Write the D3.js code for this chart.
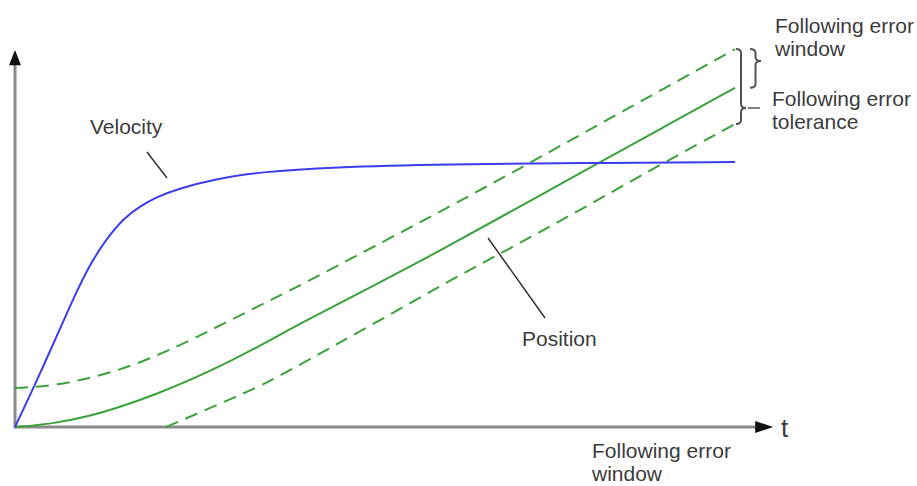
<!DOCTYPE html>
<html>
<head>
<meta charset="utf-8">
<script src="https://cdn.jsdelivr.net/npm/d3@7"></script>
<style>
  body { margin: 0; background: #fff; }
  text { font-family: "Liberation Sans", Arial, sans-serif; fill: #3c3c3c; }
</style>
</head>
<body>
<div id="chart"></div>
<script>
// time grid (arbitrary units) and curve values
let tGrid = [0, 0.5, 1, 1.5, 2, 2.5, 3, 3.5, 4, 5, 6, 7, 8, 9, 10];
let position = [0, 0.011, 0.038, 0.079, 0.128, 0.185, 0.249, 0.321, 0.396, 0.536, 0.679, 0.83, 0.981, 1.13, 1.28];
let windowUpper = [0.147, 0.155, 0.181, 0.219, 0.272, 0.336, 0.404, 0.472, 0.54, 0.683, 0.826, 0.974, 1.125, 1.275, 1.426];
let tLower = [2.1, 2.5, 3, 3.5, 4, 5, 6, 7, 8, 9, 10];
let windowLower = [0, 0.047, 0.106, 0.166, 0.242, 0.392, 0.547, 0.692, 0.842, 0.996, 1.143];
let tVel = [0, 0.25, 0.625, 0.8, 1.04, 1.28, 1.5, 1.74, 1.97, 2.25, 2.78, 3.4, 4.375, 6.04, 7.85, 10];
let velocity = [0, 0.143, 0.37, 0.479, 0.615, 0.713, 0.785, 0.834, 0.868, 0.898, 0.936, 0.962, 0.981, 0.992, 0.996, 1];

let width = 917, height = 486;

let svg = d3.select("#chart")
    .append("svg")
    .attr("width", width)
    .attr("height", height);

let x = d3.scaleLinear().domain([0, 10]).range([15, 735]);
let y = d3.scaleLinear().domain([0, 1]).range([427, 162]);

let green = "#3aa23a";
let blue = "#3c3cf0";

let line = d3.line()
    .x(d => x(d[0]))
    .y(d => y(d[1]))
    .curve(d3.curveBasis);

// axes
svg.append("line")
    .attr("x1", x(0)).attr("y1", y(0))
    .attr("x2", x(10.35)).attr("y2", y(0))
    .attr("stroke", "#8a8a8a").attr("stroke-width", 3);

svg.append("line")
    .attr("x1", x(0)).attr("y1", y(0) + 1.5)
    .attr("x2", x(0)).attr("y2", y(1.38))
    .attr("stroke", "#8a8a8a").attr("stroke-width", 3);

svg.append("path")
    .attr("d", "M" + x(10.53) + "," + y(0) + " L" + x(10.28) + "," + (y(0) - 6) + " L" + x(10.28) + "," + (y(0) + 6) + "Z")
    .attr("fill", "#111");

svg.append("path")
    .attr("d", "M" + x(0) + "," + y(1.423) + " L" + (x(0) - 6) + "," + y(1.365) + " L" + (x(0) + 6) + "," + y(1.365) + "Z")
    .attr("fill", "#111");

svg.append("text")
    .attr("x", 781).attr("y", 437)
    .style("font-size", "26px")
    .text("t");

// curves
svg.append("path")
    .datum(tGrid.map((t, i) => [t, windowUpper[i]]))
    .attr("d", line)
    .attr("fill", "none").attr("stroke", green).attr("stroke-width", 2)
    .attr("stroke-dasharray", "13,8");

svg.append("path")
    .datum(tLower.map((t, i) => [t, windowLower[i]]))
    .attr("d", line)
    .attr("fill", "none").attr("stroke", green).attr("stroke-width", 2)
    .attr("stroke-dasharray", "13,8");

svg.append("path")
    .datum(tGrid.map((t, i) => [t, position[i]]))
    .attr("d", line)
    .attr("fill", "none").attr("stroke", green).attr("stroke-width", 2);

svg.append("path")
    .datum(tVel.map((t, i) => [t, velocity[i]]))
    .attr("d", line)
    .attr("fill", "none").attr("stroke", blue).attr("stroke-width", 2);

// braces at the end of the curves
function brace(x0, y0, y1, ym, w) {
    let xm = x0 + w / 2, r = 4;
    return "M" + x0 + "," + y0 +
        " Q" + xm + "," + y0 + " " + xm + "," + (y0 + r) +
        " L" + xm + "," + (ym - r) +
        " Q" + xm + "," + ym + " " + (x0 + w) + "," + ym +
        " Q" + xm + "," + ym + " " + xm + "," + (ym + r) +
        " L" + xm + "," + (y1 - r) +
        " Q" + xm + "," + y1 + " " + x0 + "," + y1;
}

let endT = tGrid[tGrid.length - 1];
let yUp = y(windowUpper[windowUpper.length - 1]);
let yPos = y(position[position.length - 1]);
let yLow = y(windowLower[windowLower.length - 1]);

svg.append("path")
    .attr("d", brace(x(endT) + 1, yUp, yLow, 108, 10))
    .attr("fill", "none").attr("stroke", "#555").attr("stroke-width", 2);

svg.append("line")
    .attr("x1", 748).attr("y1", 108).attr("x2", 760).attr("y2", 108)
    .attr("stroke", "#555").attr("stroke-width", 1.5);

svg.append("path")
    .attr("d", brace(750, yUp, yPos, 61, 11))
    .attr("fill", "none").attr("stroke", "#555").attr("stroke-width", 2);

// labels
svg.append("text").attr("x", 90).attr("y", 134).style("font-size", "21px").text("Velocity");
svg.append("line")
    .attr("x1", 147).attr("y1", 152).attr("x2", 167).attr("y2", 178)
    .attr("stroke", "#333").attr("stroke-width", 1.5);

svg.append("text").attr("x", 522).attr("y", 346).style("font-size", "21px").text("Position");
svg.append("line")
    .attr("x1", 488).attr("y1", 238).attr("x2", 545).attr("y2", 318)
    .attr("stroke", "#333").attr("stroke-width", 1.5);

let labels = [
    {x: 775, y: 33, lines: ["Following error", "window"]},
    {x: 772, y: 106, lines: ["Following error", "tolerance"]},
    {x: 592, y: 458, lines: ["Following error", "window"]}
];

labels.forEach(l => {
    let t = svg.append("text").attr("x", l.x).attr("y", l.y).style("font-size", "21px");
    l.lines.forEach((s, i) => {
        t.append("tspan").attr("x", l.x).attr("dy", i === 0 ? 0 : 23).text(s);
    });
});
</script>
</body>
</html>
